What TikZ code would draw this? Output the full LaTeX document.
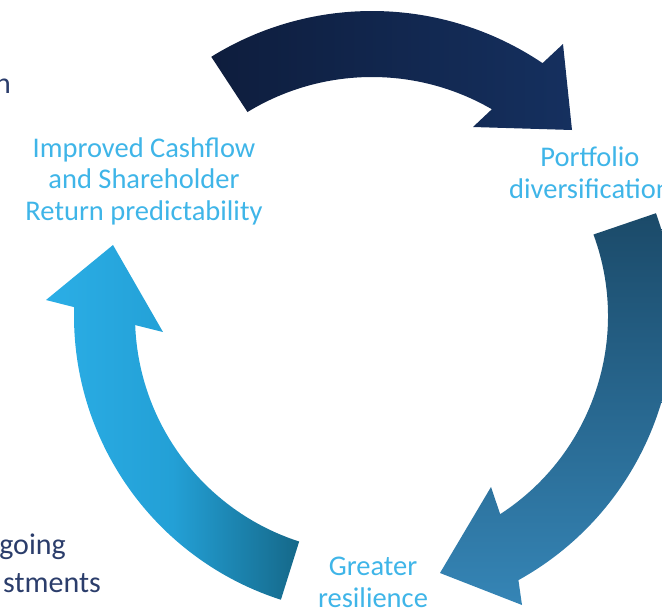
\documentclass[tikz,border=0pt]{standalone}
\usepackage{fontspec}
\setmainfont{Carlito}
\usetikzlibrary{calc}
\definecolor{lblue}{HTML}{3FB5E8}
\definecolor{navytxt}{HTML}{2B3D6B}
\definecolor{topA}{HTML}{0E1D3D}
\definecolor{topB}{HTML}{15305F}
\definecolor{rightA}{HTML}{1B4A69}
\definecolor{rightB}{HTML}{3585B6}
\definecolor{leftA}{HTML}{2BAEE6}
\definecolor{leftM}{HTML}{23A0D6}
\definecolor{leftB}{HTML}{156889}
\pgfdeclarehorizontalshading{leftshade}{100bp}{color(0bp)=(leftA); color(25bp)=(leftA); color(50bp)=(leftM); color(75bp)=(leftB); color(100bp)=(leftB)}
\begin{document}
\begin{tikzpicture}[x=1pt,y=-1pt,
  lbl/.style={text=lblue,font=\fontsize{28.5}{31.5}\selectfont,align=center,inner sep=0pt},
  dark/.style={text=navytxt,font=\fontsize{30}{38}\selectfont,inner sep=0pt}]
\useasboundingbox (0,0) rectangle (662,608);
\clip (0,0) rectangle (662,608);
\coordinate (C) at (372,316);
% top arrow
\shade[left color=topA,right color=topB]
  ($(C)+(-121.8:305)$) arc[start angle=-121.8,end angle=-56,radius=305]
  -- (563,44) -- (572,130) -- (473,127)
  -- ($(C)+(-59.9:239)$) arc[start angle=-59.9,end angle=-121.4,radius=239] -- cycle;
% right arrow
\shade[top color=rightA,bottom color=rightB]
  ($(C)+(-19.9:302)$) arc[start angle=-19.9,end angle=61,radius=302]
  -- (522,605) -- (440,573) -- (491,487)
  -- ($(C)+(57.1:236)$) arc[start angle=57.1,end angle=-20.2,radius=236] -- cycle;
% left arrow
\shade[shading=leftshade]
  ($(C)+(107.8:298)$) arc[start angle=107.8,end angle=181.7,radius=298]
  -- (46,300) -- (113,245) -- (163,332)
  -- ($(C)+(177.8:237)$) arc[start angle=177.8,end angle=107.9,radius=237] -- cycle;
% labels (base anchor = baseline of last line)
\node[lbl,anchor=base] (cash) at (144,220) {Improved Cashflow\\and Shareholder\\Return predictability};
\node[lbl,anchor=base] (port) at (590,198) {Portfolio\\diversification};
\node[lbl,anchor=base] (resil) at (373,607) {Greater\\resilience};
\node[dark,anchor=base east] (nn) at (11,93) {n};
\node[dark,anchor=base east] (go) at (66,554) {going};
\node[dark,anchor=base east] (inv) at (101,592) {stments};
\end{tikzpicture}
\end{document}
